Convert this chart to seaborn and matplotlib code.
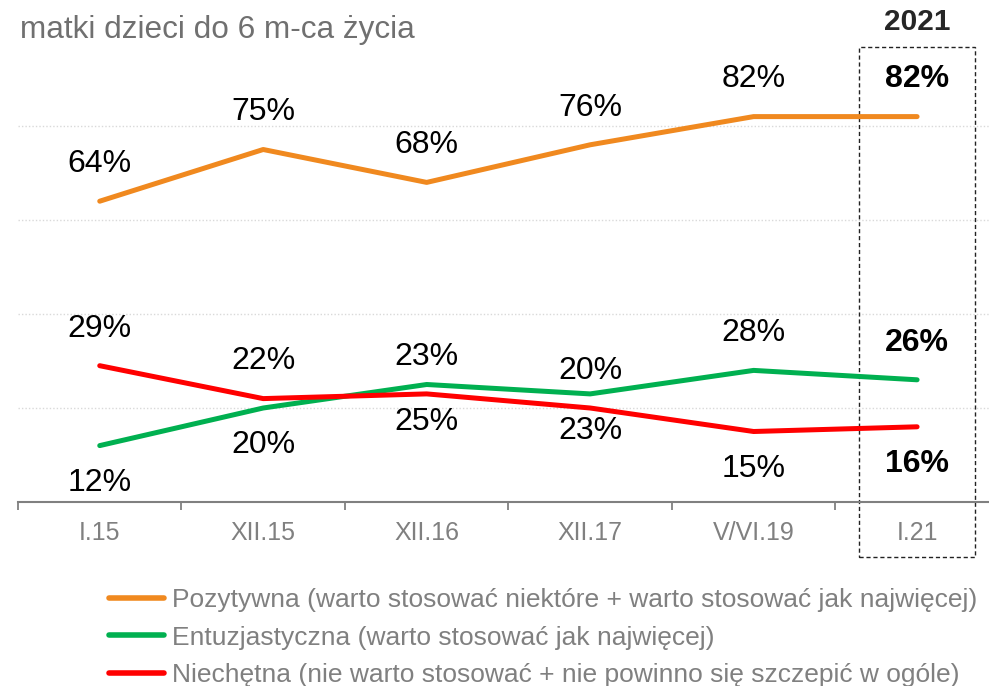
import pandas as pd
import matplotlib.pyplot as plt
import seaborn as sns
from matplotlib.patches import Rectangle
from matplotlib.lines import Line2D

okresy = ["I.15", "XII.15", "XII.16", "XII.17", "V/VI.19", "I.21"]
pozytywna = [64, 75, 68, 76, 82, 82]
entuzjastyczna = [12, 20, 25, 23, 28, 26]
niechetna = [29, 22, 23, 20, 15, 16]

nazwy = ["Pozytywna (warto stosować niektóre + warto stosować jak najwięcej)",
         "Entuzjastyczna (warto stosować jak najwięcej)",
         "Niechętna (nie warto stosować + nie powinno się szczepić w ogóle)"]
kolory = ["#F0891F", "#00B050", "#FF0000"]

# gdzie etykieta: 1 = nad linia, -1 = pod linia
strona_poz = [1, 1, 1, 1, 1, 1]
strona_ent = [-1, -1, -1, -1, 1, 1]
strona_nie = [1, 1, 1, 1, -1, -1]

sns.set_style("white")
plt.rcParams["font.family"] = ["Liberation Sans", "DejaVu Sans"]

dane = pd.DataFrame({
    "okres": okresy * 3,
    "x": list(range(len(okresy))) * 3,
    "wartosc": pozytywna + entuzjastyczna + niechetna,
    "grupa": [nazwy[0]] * 6 + [nazwy[1]] * 6 + [nazwy[2]] * 6,
})

fig = plt.figure(figsize=(9.89, 6.86), dpi=100)
ax = fig.add_axes([18 / 989, 1 - 502 / 686, 1 - 18 / 989, 470 / 686])

sns.lineplot(data=dane, x="x", y="wartosc", hue="grupa", palette=kolory,
             linewidth=3.6, legend=False, ax=ax, sort=False,
             solid_capstyle="round")

ax.set_xlim(-0.5, 5.44)
ax.set_ylim(0, 100)
ax.set_yticks([])
for g in [20, 40, 60, 80]:
    ax.axhline(g, color="#d9d9d9", lw=1, ls=(0, (1, 1.5)), zorder=0)

ax.set_xticks(range(len(okresy)))
ax.set_xticklabels(okresy, color="#808080", fontsize=18)
ax.set_xticks([i - 0.5 for i in range(len(okresy))], minor=True)
ax.tick_params(axis="x", which="major", length=0, pad=14)
ax.tick_params(axis="x", which="minor", bottom=True, direction="out",
               length=6, width=1.3, color="#808080")
ax.set_xlabel("")
ax.set_ylabel("")
for s in ["top", "right", "left"]:
    ax.spines[s].set_visible(False)
ax.spines["bottom"].set_color("#808080")
ax.spines["bottom"].set_linewidth(1.5)

for seria, strony in [(pozytywna, strona_poz), (entuzjastyczna, strona_ent),
                      (niechetna, strona_nie)]:
    for i, (v, s) in enumerate(zip(seria, strony)):
        gruby = "bold" if i == len(okresy) - 1 else "normal"
        ax.text(i, v + s * 7.9, f"{v}%", ha="center", va="center",
                fontsize=23, fontweight=gruby, color="black")

ax.add_patch(Rectangle((4.645, -11.7), 0.71, 108.5, fill=False, ls=(0, (3, 2)),
                       lw=1, ec="#222222", clip_on=False))
ax.text(5, 102.2, "2021", ha="center", va="center", fontsize=21.5,
        fontweight="bold", color="#262626")

fig.text(20 / 989, 1 - 30 / 686, "matki dzieci do 6 m-ca życia", ha="left",
         va="center", fontsize=22.7, color="#707070")

uchwyty = [Line2D([], [], color=k, lw=4, solid_capstyle="round") for k in kolory]
leg = fig.legend(uchwyty, nazwy, loc="upper left",
                 bbox_to_anchor=(109 / 989, 1 - 588 / 686), frameon=False,
                 fontsize=19, handlelength=2.1, handletextpad=0.3,
                 labelspacing=0.52, borderpad=0, borderaxespad=0)
for t in leg.get_texts():
    t.set_color("#808080")

fig.savefig("out.png", dpi=100)
